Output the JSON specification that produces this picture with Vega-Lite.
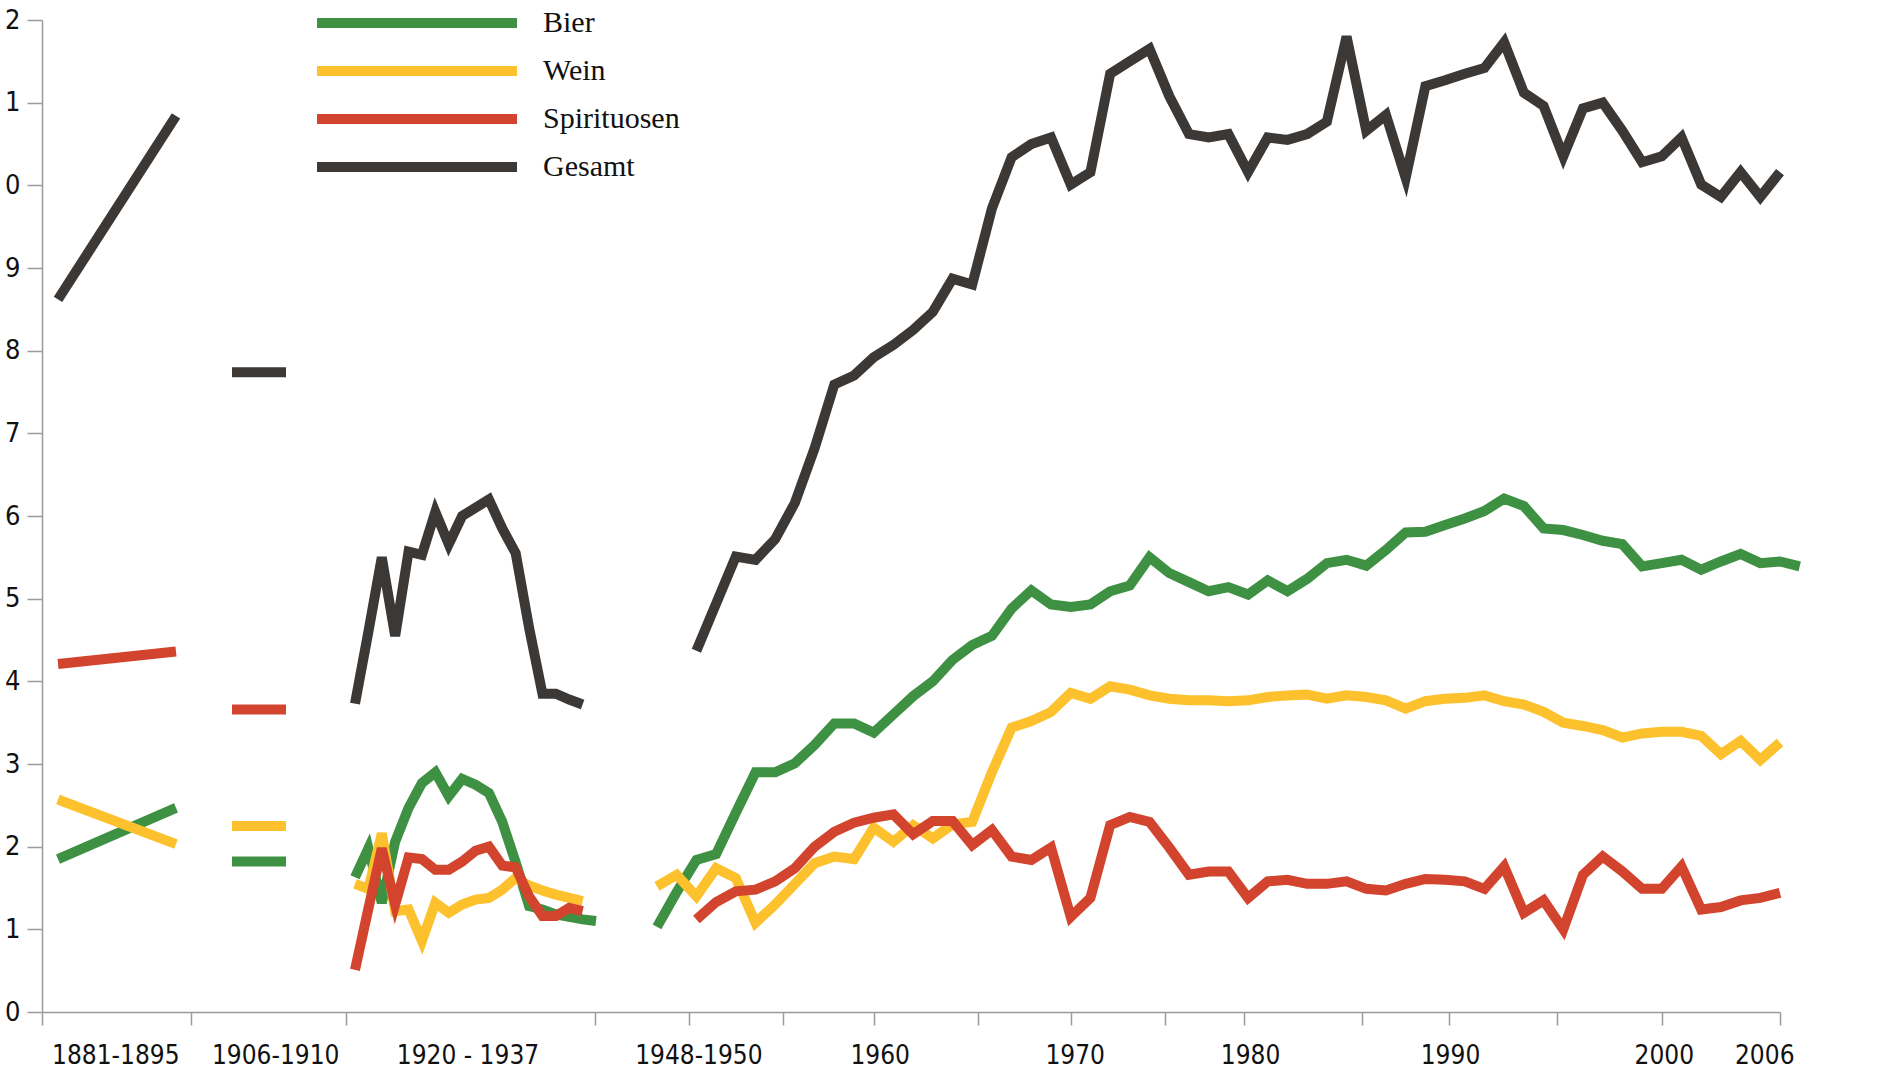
{
  "$schema": "https://vega.github.io/schema/vega-lite/v6.json",
  "width": 1740,
  "height": 992,
  "autosize": {"type": "none"},
  "padding": {"left": 42, "top": 20, "right": 104, "bottom": 61},
  "background": "white",
  "config": {"view": {"stroke": null}},
  "data": {"values": [
    {"abschnitt": "A", "jahr": 1881, "Bier": 1.85, "Wein": 2.57, "Spirituosen": 4.21, "Gesamt": 8.62},
    {"abschnitt": "A", "jahr": 1895, "Bier": 2.47, "Wein": 2.03, "Spirituosen": 4.36, "Gesamt": 10.84},
    {"abschnitt": "B", "jahr": 1906, "Bier": 1.82, "Wein": 2.25, "Spirituosen": 3.66, "Gesamt": 7.74},
    {"abschnitt": "B", "jahr": 1910, "Bier": 1.82, "Wein": 2.25, "Spirituosen": 3.66, "Gesamt": 7.74},
    {"abschnitt": "C", "jahr": 1920, "Bier": 1.63, "Wein": 1.55, "Spirituosen": 0.51, "Gesamt": 3.73},
    {"abschnitt": "C", "jahr": 1921, "Bier": 1.98, "Wein": 1.49, "Spirituosen": 1.25, "Gesamt": 4.6},
    {"abschnitt": "C", "jahr": 1922, "Bier": 1.32, "Wein": 2.16, "Spirituosen": 1.98, "Gesamt": 5.5},
    {"abschnitt": "C", "jahr": 1923, "Bier": 2.06, "Wein": 1.22, "Spirituosen": 1.3, "Gesamt": 4.55},
    {"abschnitt": "C", "jahr": 1924, "Bier": 2.47, "Wein": 1.24, "Spirituosen": 1.87, "Gesamt": 5.57},
    {"abschnitt": "C", "jahr": 1925, "Bier": 2.77, "Wein": 0.86, "Spirituosen": 1.85, "Gesamt": 5.53},
    {"abschnitt": "C", "jahr": 1926, "Bier": 2.9, "Wein": 1.32, "Spirituosen": 1.72, "Gesamt": 6.05},
    {"abschnitt": "C", "jahr": 1927, "Bier": 2.61, "Wein": 1.2, "Spirituosen": 1.72, "Gesamt": 5.66},
    {"abschnitt": "C", "jahr": 1928, "Bier": 2.82, "Wein": 1.3, "Spirituosen": 1.82, "Gesamt": 6.0},
    {"abschnitt": "C", "jahr": 1929, "Bier": 2.75, "Wein": 1.36, "Spirituosen": 1.95, "Gesamt": 6.1},
    {"abschnitt": "C", "jahr": 1930, "Bier": 2.65, "Wein": 1.38, "Spirituosen": 2.0, "Gesamt": 6.2},
    {"abschnitt": "C", "jahr": 1931, "Bier": 2.3, "Wein": 1.48, "Spirituosen": 1.77, "Gesamt": 5.85},
    {"abschnitt": "C", "jahr": 1932, "Bier": 1.81, "Wein": 1.62, "Spirituosen": 1.75, "Gesamt": 5.55},
    {"abschnitt": "C", "jahr": 1933, "Bier": 1.28, "Wein": 1.53, "Spirituosen": 1.4, "Gesamt": 4.65},
    {"abschnitt": "C", "jahr": 1934, "Bier": 1.24, "Wein": 1.47, "Spirituosen": 1.16, "Gesamt": 3.85},
    {"abschnitt": "C", "jahr": 1935, "Bier": 1.18, "Wein": 1.42, "Spirituosen": 1.16, "Gesamt": 3.85},
    {"abschnitt": "C", "jahr": 1936, "Bier": 1.15, "Wein": 1.38, "Spirituosen": 1.26, "Gesamt": 3.78},
    {"abschnitt": "C", "jahr": 1937, "Bier": 1.12, "Wein": 1.34, "Spirituosen": 1.22, "Gesamt": 3.72},
    {"abschnitt": "C", "jahr": 1938, "Bier": 1.1},
    {"abschnitt": "D", "jahr": 1949, "Bier": 1.03, "Wein": 1.52},
    {"abschnitt": "D", "jahr": 1950, "Bier": 1.45, "Wein": 1.66},
    {"abschnitt": "D", "jahr": 1951, "Bier": 1.84, "Wein": 1.4, "Spirituosen": 1.12, "Gesamt": 4.37},
    {"abschnitt": "D", "jahr": 1952, "Bier": 1.91, "Wein": 1.74, "Spirituosen": 1.33, "Gesamt": 4.94},
    {"abschnitt": "D", "jahr": 1953, "Bier": 2.41, "Wein": 1.62, "Spirituosen": 1.46, "Gesamt": 5.51},
    {"abschnitt": "D", "jahr": 1954, "Bier": 2.9, "Wein": 1.08, "Spirituosen": 1.48, "Gesamt": 5.47},
    {"abschnitt": "D", "jahr": 1955, "Bier": 2.9, "Wein": 1.3, "Spirituosen": 1.58, "Gesamt": 5.72},
    {"abschnitt": "D", "jahr": 1956, "Bier": 3.01, "Wein": 1.55, "Spirituosen": 1.74, "Gesamt": 6.16},
    {"abschnitt": "D", "jahr": 1957, "Bier": 3.23, "Wein": 1.8, "Spirituosen": 2.0, "Gesamt": 6.82},
    {"abschnitt": "D", "jahr": 1958, "Bier": 3.49, "Wein": 1.88, "Spirituosen": 2.18, "Gesamt": 7.59},
    {"abschnitt": "D", "jahr": 1959, "Bier": 3.49, "Wein": 1.85, "Spirituosen": 2.29, "Gesamt": 7.7},
    {"abschnitt": "D", "jahr": 1960, "Bier": 3.38, "Wein": 2.23, "Spirituosen": 2.35, "Gesamt": 7.92},
    {"abschnitt": "D", "jahr": 1961, "Bier": 3.6, "Wein": 2.06, "Spirituosen": 2.39, "Gesamt": 8.07},
    {"abschnitt": "D", "jahr": 1962, "Bier": 3.82, "Wein": 2.26, "Spirituosen": 2.15, "Gesamt": 8.25},
    {"abschnitt": "D", "jahr": 1963, "Bier": 4.0, "Wein": 2.1, "Spirituosen": 2.31, "Gesamt": 8.47},
    {"abschnitt": "D", "jahr": 1964, "Bier": 4.26, "Wein": 2.27, "Spirituosen": 2.31, "Gesamt": 8.87},
    {"abschnitt": "D", "jahr": 1965, "Bier": 4.44, "Wein": 2.3, "Spirituosen": 2.02, "Gesamt": 8.8},
    {"abschnitt": "D", "jahr": 1966, "Bier": 4.55, "Wein": 2.9, "Spirituosen": 2.2, "Gesamt": 9.72},
    {"abschnitt": "D", "jahr": 1967, "Bier": 4.88, "Wein": 3.44, "Spirituosen": 1.88, "Gesamt": 10.34},
    {"abschnitt": "D", "jahr": 1968, "Bier": 5.1, "Wein": 3.52, "Spirituosen": 1.84, "Gesamt": 10.5},
    {"abschnitt": "D", "jahr": 1969, "Bier": 4.93, "Wein": 3.63, "Spirituosen": 1.99, "Gesamt": 10.58},
    {"abschnitt": "D", "jahr": 1970, "Bier": 4.9, "Wein": 3.86, "Spirituosen": 1.15, "Gesamt": 10.01},
    {"abschnitt": "D", "jahr": 1971, "Bier": 4.93, "Wein": 3.79, "Spirituosen": 1.38, "Gesamt": 10.16},
    {"abschnitt": "D", "jahr": 1972, "Bier": 5.09, "Wein": 3.94, "Spirituosen": 2.26, "Gesamt": 11.35},
    {"abschnitt": "D", "jahr": 1973, "Bier": 5.16, "Wein": 3.9, "Spirituosen": 2.36, "Gesamt": 11.5},
    {"abschnitt": "D", "jahr": 1974, "Bier": 5.5, "Wein": 3.83, "Spirituosen": 2.3, "Gesamt": 11.65},
    {"abschnitt": "D", "jahr": 1975, "Bier": 5.31, "Wein": 3.79, "Spirituosen": 1.99, "Gesamt": 11.08},
    {"abschnitt": "D", "jahr": 1976, "Bier": 5.2, "Wein": 3.77, "Spirituosen": 1.66, "Gesamt": 10.62},
    {"abschnitt": "D", "jahr": 1977, "Bier": 5.09, "Wein": 3.77, "Spirituosen": 1.7, "Gesamt": 10.58},
    {"abschnitt": "D", "jahr": 1978, "Bier": 5.14, "Wein": 3.76, "Spirituosen": 1.7, "Gesamt": 10.62},
    {"abschnitt": "D", "jahr": 1979, "Bier": 5.05, "Wein": 3.77, "Spirituosen": 1.38, "Gesamt": 10.16},
    {"abschnitt": "D", "jahr": 1980, "Bier": 5.22, "Wein": 3.81, "Spirituosen": 1.58, "Gesamt": 10.58},
    {"abschnitt": "D", "jahr": 1981, "Bier": 5.09, "Wein": 3.83, "Spirituosen": 1.6, "Gesamt": 10.55},
    {"abschnitt": "D", "jahr": 1982, "Bier": 5.24, "Wein": 3.84, "Spirituosen": 1.55, "Gesamt": 10.62},
    {"abschnitt": "D", "jahr": 1983, "Bier": 5.43, "Wein": 3.79, "Spirituosen": 1.55, "Gesamt": 10.77},
    {"abschnitt": "D", "jahr": 1984, "Bier": 5.47, "Wein": 3.83, "Spirituosen": 1.58, "Gesamt": 11.8},
    {"abschnitt": "D", "jahr": 1985, "Bier": 5.4, "Wein": 3.81, "Spirituosen": 1.49, "Gesamt": 10.66},
    {"abschnitt": "D", "jahr": 1986, "Bier": 5.59, "Wein": 3.77, "Spirituosen": 1.47, "Gesamt": 10.85},
    {"abschnitt": "D", "jahr": 1987, "Bier": 5.8, "Wein": 3.67, "Spirituosen": 1.55, "Gesamt": 10.09},
    {"abschnitt": "D", "jahr": 1988, "Bier": 5.81, "Wein": 3.76, "Spirituosen": 1.61, "Gesamt": 11.2},
    {"abschnitt": "D", "jahr": 1989, "Bier": 5.89, "Wein": 3.79, "Spirituosen": 1.6, "Gesamt": 11.27},
    {"abschnitt": "D", "jahr": 1990, "Bier": 5.97, "Wein": 3.8, "Spirituosen": 1.58, "Gesamt": 11.35},
    {"abschnitt": "D", "jahr": 1991, "Bier": 6.06, "Wein": 3.83, "Spirituosen": 1.49, "Gesamt": 11.42},
    {"abschnitt": "D", "jahr": 1992, "Bier": 6.21, "Wein": 3.76, "Spirituosen": 1.76, "Gesamt": 11.73},
    {"abschnitt": "D", "jahr": 1993, "Bier": 6.12, "Wein": 3.72, "Spirituosen": 1.2, "Gesamt": 11.12},
    {"abschnitt": "D", "jahr": 1994, "Bier": 5.85, "Wein": 3.63, "Spirituosen": 1.35, "Gesamt": 10.96},
    {"abschnitt": "D", "jahr": 1995, "Bier": 5.83, "Wein": 3.5, "Spirituosen": 1.0, "Gesamt": 10.35},
    {"abschnitt": "D", "jahr": 1996, "Bier": 5.77, "Wein": 3.46, "Spirituosen": 1.66, "Gesamt": 10.93},
    {"abschnitt": "D", "jahr": 1997, "Bier": 5.7, "Wein": 3.41, "Spirituosen": 1.88, "Gesamt": 11.0},
    {"abschnitt": "D", "jahr": 1998, "Bier": 5.66, "Wein": 3.32, "Spirituosen": 1.7, "Gesamt": 10.66},
    {"abschnitt": "D", "jahr": 1999, "Bier": 5.39, "Wein": 3.37, "Spirituosen": 1.49, "Gesamt": 10.28},
    {"abschnitt": "D", "jahr": 2000, "Bier": 5.43, "Wein": 3.39, "Spirituosen": 1.49, "Gesamt": 10.35},
    {"abschnitt": "D", "jahr": 2001, "Bier": 5.47, "Wein": 3.39, "Spirituosen": 1.76, "Gesamt": 10.58},
    {"abschnitt": "D", "jahr": 2002, "Bier": 5.35, "Wein": 3.34, "Spirituosen": 1.24, "Gesamt": 10.01},
    {"abschnitt": "D", "jahr": 2003, "Bier": 5.45, "Wein": 3.12, "Spirituosen": 1.27, "Gesamt": 9.86},
    {"abschnitt": "D", "jahr": 2004, "Bier": 5.54, "Wein": 3.28, "Spirituosen": 1.35, "Gesamt": 10.16},
    {"abschnitt": "D", "jahr": 2005, "Bier": 5.43, "Wein": 3.05, "Spirituosen": 1.38, "Gesamt": 9.86},
    {"abschnitt": "D", "jahr": 2006, "Bier": 5.45, "Wein": 3.26, "Spirituosen": 1.44, "Gesamt": 10.16},
    {"abschnitt": "D", "jahr": 2007, "Bier": 5.39}
  ]},
  "transform": [
    {"fold": ["Bier", "Wein", "Spirituosen", "Gesamt"], "as": ["serie", "liter"]},
    {"filter": "isValid(datum.liter)"}
  ],
  "mark": {"type": "line", "strokeWidth": 10, "strokeJoin": "miter", "strokeCap": "butt", "clip": false},
  "encoding": {
    "x": {
      "field": "jahr", "type": "quantitative",
      "scale": {"domain": [1879, 1881, 1895, 1906, 1910, 1920, 1938, 1949, 2006], "range": [0, 16, 134, 190, 244, 313, 554, 615, 1738], "nice": false, "zero": false},
      "axis": {
        "title": null, "grid": false,
        "values": [1879, 1898, 1918.75, 1937.9, 1950.6, 1955.4, 1960, 1965.3, 1970, 1974.8, 1978.8, 1984.8, 1989.2, 1994.7, 2000, 2006, 1887.8, 1909.2, 1928.4, 1951.1, 1960.3, 1970.2, 1979.1, 1989.25, 2000.1, 2005.2],
        "labelExpr": "datum.value == 1887.8 ? '1881-1895' : datum.value == 1909.2 ? '1906-1910' : datum.value == 1928.4 ? '1920 - 1937' : datum.value == 1951.1 ? '1948-1950' : datum.value == 1960.3 ? '1960' : datum.value == 1970.2 ? '1970' : datum.value == 1979.1 ? '1980' : datum.value == 1989.25 ? '1990' : datum.value == 2000.1 ? '2000' : datum.value == 2005.2 ? '2006' : ''",
        "tickOpacity": {"condition": {"test": "indexof([1887.8, 1909.2, 1928.4, 1951.1, 1960.3, 1970.2, 1979.1, 1989.25, 2000.1, 2005.2], datum.value) >= 0", "value": 0}, "value": 1},
        "tickSize": 13, "tickWidth": 1.5, "tickColor": "#9a9a9a",
        "domainColor": "#9a9a9a", "domainWidth": 1.5,
        "labelFont": "DejaVu Sans Condensed",
        "labelFontSize": 26, "labelColor": "#111111", "labelPadding": 17,
        "labelOverlap": false, "labelFlush": false
      }
    },
    "y": {
      "field": "liter", "type": "quantitative",
      "scale": {"domain": [0, 12], "nice": false},
      "axis": {
        "title": null, "grid": false,
        "values": [0, 1, 2, 3, 4, 5, 6, 7, 8, 9, 10, 11, 12],
        "labelExpr": "'' + (datum.value % 10)",
        "tickSize": 15, "tickWidth": 1.5, "tickColor": "#9a9a9a",
        "domainColor": "#9a9a9a", "domainWidth": 1.5,
        "labelFont": "DejaVu Sans Condensed",
        "labelFontSize": 27, "labelColor": "#111111", "labelPadding": 7
      }
    },
    "color": {
      "field": "serie", "type": "nominal",
      "scale": {"domain": ["Bier", "Wein", "Spirituosen", "Gesamt"], "range": ["#3e9142", "#fcc12d", "#d2442e", "#3b3836"]},
      "legend": {
        "title": null, "orient": "none", "legendX": 270, "legendY": -12,
        "symbolType": "stroke", "symbolSize": 40000, "symbolStrokeWidth": 10,
        "clipHeight": 30, "rowPadding": 18, "labelOffset": 21,
        "labelFont": "Liberation Serif", "labelFontSize": 30, "labelColor": "#111111",
        "encode": {"symbols": {"update": {"stroke": {"signal": "datum.value === 'Gesamt' ? '#0a0a0a' : scale('color', datum.value)"}}}}
      }
    },
    "detail": {"field": "abschnitt", "type": "nominal"}
  }
}
